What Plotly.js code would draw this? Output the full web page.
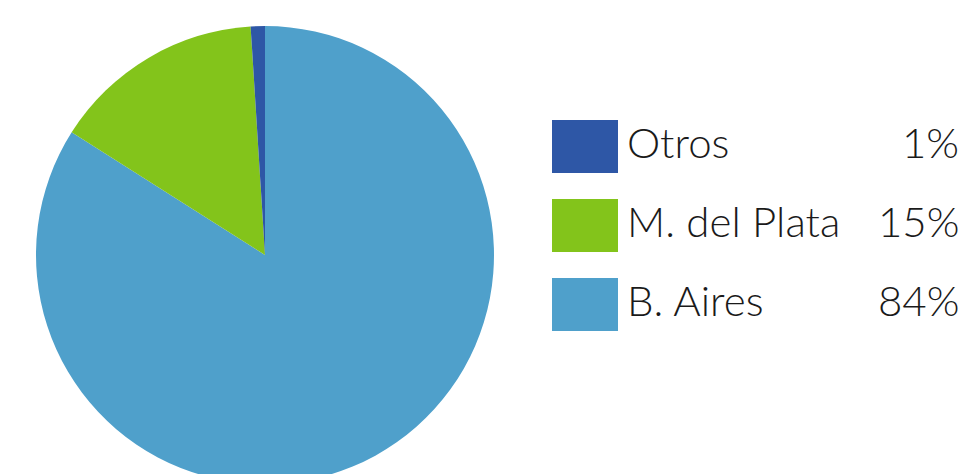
<!DOCTYPE html>
<html><head><meta charset="utf-8">
<script src="https://cdn.plot.ly/plotly-3.0.1.min.js"></script>
<style>html,body{margin:0;padding:0;overflow:hidden;background:#fff;}#chart{width:969px;height:500px;}</style>
</head><body><div id="chart"></div>
<script>
const categories = ["B. Aires", "M. del Plata", "Otros"];
const values = [84, 15, 1];
const colors = ["#4FA0CB", "#83C41B", "#2E57A6"];
const legendOrder = ["Otros", "M. del Plata", "B. Aires"];

const W = 969, H = 500;
const px = x => x / W, py = y => 1 - y / H;

const shapes = [], annotations = [];
const rowTop = [120, 199, 278];
legendOrder.forEach((name, i) => {
  const k = categories.indexOf(name);
  const t = rowTop[i];
  shapes.push({type: "rect", xref: "paper", yref: "paper",
    x0: px(552), x1: px(618), y0: py(t), y1: py(t + 53),
    fillcolor: colors[k], line: {width: 0}});
  const font = {family: "Lato, 'Open Sans', sans-serif", size: 42, color: "#1a1a1a", weight: 300};
  annotations.push({xref: "paper", yref: "paper", x: px(625), y: py(t + 22),
    xanchor: "left", yanchor: "middle", text: name, showarrow: false, font: font});
  annotations.push({xref: "paper", yref: "paper", x: px(961), y: py(t + 22),
    xanchor: "right", yanchor: "middle", text: values[k] + "%", showarrow: false, font: font});
});

const trace = {
  type: "pie", labels: categories, values: values,
  marker: {colors: colors, line: {width: 0}},
  sort: false, direction: "clockwise", rotation: 0,
  textinfo: "none", hoverinfo: "none", showlegend: false,
  domain: {x: [px(36), px(494)], y: [py(484), py(26)]}
};

Plotly.newPlot("chart", [trace], {
  width: W, height: H, margin: {l: 0, r: 0, t: 0, b: 0},
  paper_bgcolor: "#fff", showlegend: false,
  shapes: shapes, annotations: annotations
}, {staticPlot: true});
</script></body></html>
